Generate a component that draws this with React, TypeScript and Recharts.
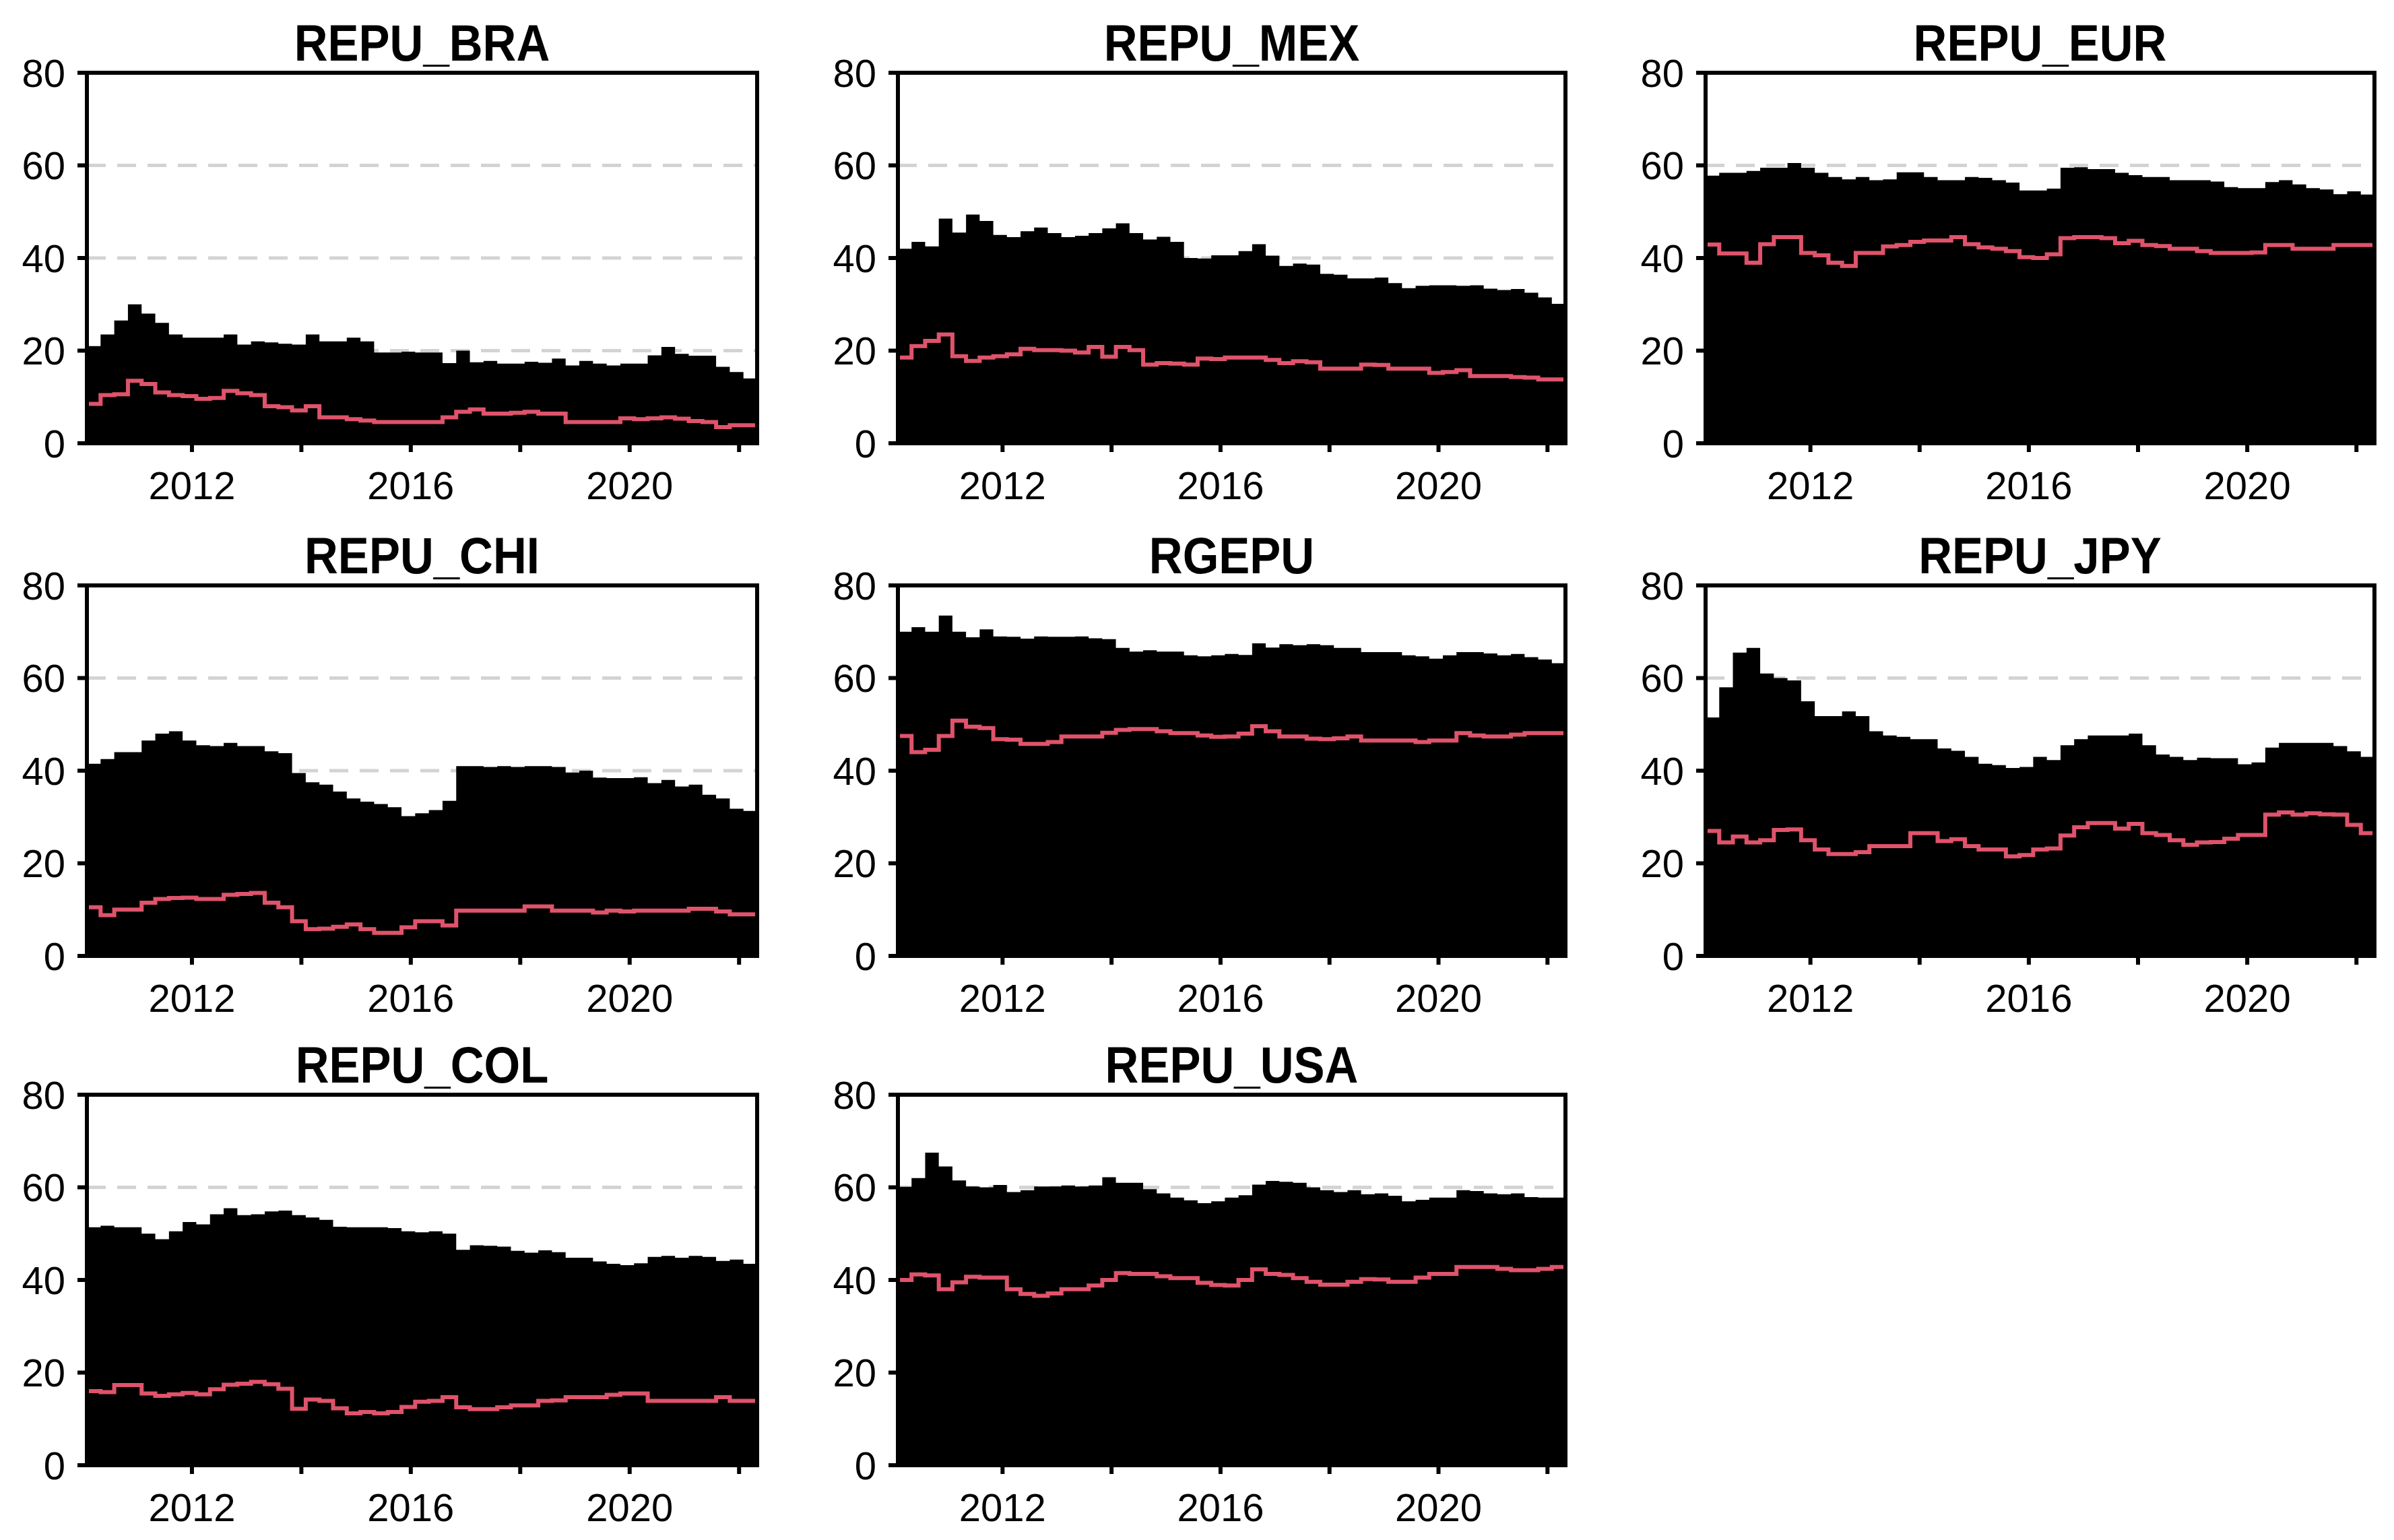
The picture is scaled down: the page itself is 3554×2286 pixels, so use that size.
import { ComposedChart, Area, Line, XAxis, YAxis, CartesianGrid } from 'recharts'

// quarterly observation dates (decimal years)
const quarters = [
  2010.08, 2010.33, 2010.58, 2010.83, 2011.08, 2011.33, 2011.58, 2011.83,
  2012.08, 2012.33, 2012.58, 2012.83, 2013.08, 2013.33, 2013.58, 2013.83,
  2014.08, 2014.33, 2014.58, 2014.83, 2015.08, 2015.33, 2015.58, 2015.83,
  2016.08, 2016.33, 2016.58, 2016.83, 2017.08, 2017.33, 2017.58, 2017.83,
  2018.08, 2018.33, 2018.58, 2018.83, 2019.08, 2019.33, 2019.58, 2019.83,
  2020.08, 2020.33, 2020.58, 2020.83, 2021.08, 2021.33, 2021.58, 2021.83,
  2022.08, 2022.33,
]

const yTicks = [0, 20, 40, 60, 80]
const xTicks = [2012, 2014, 2016, 2018, 2020, 2022]
const xLabels = [2012, 2016, 2020]

const braArea = [
  21, 23.5, 26.5, 30, 28, 26, 23.5, 22.8, 22.8, 22.8, 23.5, 21.3, 22, 21.8, 21.5, 21.3,
  23.5, 22, 22, 22.8, 22, 19.6, 19.6, 19.8, 19.6, 19.6, 17.3, 20, 17.5, 17.8, 17.2, 17.2,
  17.6, 17.4, 18.3, 16.8, 17.8, 17.2, 16.8, 17.2, 17.2, 19, 20.8, 19.3, 18.9, 18.9, 16.5, 15.4,
  14, 14.9,
]
const braLine = [
  8.5, 10.4, 10.6, 13.5, 12.8, 11, 10.4, 10.2, 9.6, 9.8, 11.3, 10.8, 10.4, 8, 7.8, 7.1,
  8, 5.6, 5.6, 5.2, 4.9, 4.6, 4.6, 4.6, 4.6, 4.6, 5.6, 6.8, 7.3, 6.4, 6.4, 6.6,
  6.8, 6.4, 6.4, 4.6, 4.6, 4.6, 4.6, 5.4, 5.2, 5.4, 5.6, 5.3, 4.8, 4.6, 3.5, 3.9,
  3.9, 3.9,
]

const mexArea = [
  42, 43.5, 42.5, 48.5, 45.5, 49.4, 48, 45, 44.5, 45.8, 46.6, 45.4, 44.5, 44.8, 45.4, 46.4,
  47.5, 45.4, 44, 44.6, 43.5, 40, 39.9, 40.6, 40.6, 41.5, 43, 40.5, 38.3, 38.8, 38.6, 36.6,
  36.4, 35.6, 35.6, 35.8, 34.6, 33.5, 34, 34.1, 34.1, 34, 34.1, 33.4, 33.1, 33.3, 32.5, 31.5,
  30.1, 28.6,
]
const mexLine = [
  18.5, 21, 22.1, 23.5, 18.8, 17.8, 18.5, 18.8, 19.2, 20.4, 20.1, 20.1, 20, 19.6, 20.8, 18.7,
  20.8, 20.1, 17, 17.3, 17.2, 17, 18.3, 18.2, 18.5, 18.5, 18.5, 18, 17.3, 17.7, 17.5, 16.1,
  16.1, 16.1, 17, 16.9, 16.1, 16.1, 16.1, 15.2, 15.4, 15.8, 14.5, 14.5, 14.5, 14.3, 14.2, 13.8,
  13.8, 12.7,
]

const eurArea = [
  57.8, 58.4, 58.4, 58.8, 59.5, 59.5, 60.5, 59.5, 58.4, 57.5, 57, 57.5, 56.8, 57, 58.5, 58.5,
  57.5, 56.8, 56.8, 57.5, 57.3, 56.8, 56.3, 54.6, 54.6, 55, 59.5, 59.6, 59.2, 59.2, 58.4, 57.9,
  57.5, 57.5, 56.8, 56.8, 56.8, 56.5, 55.3, 55.1, 55.1, 56.4, 56.8, 55.9, 55.1, 54.8, 53.8, 54.4,
  53.7, 54.4,
]
const eurLine = [
  42.9, 41, 41, 39, 43, 44.5, 44.5, 41.1, 40.6, 39, 38.3, 41.1, 41.1, 42.5, 42.8, 43.5,
  43.8, 43.8, 44.5, 43, 42.3, 42, 41.5, 40.2, 40, 40.8, 44.3, 44.5, 44.5, 44.3, 43.2, 43.7,
  42.8, 42.6, 42, 42, 41.5, 41.1, 41.1, 41.1, 41.2, 42.8, 42.8, 42, 42, 42, 42.8, 42.8,
  42.8, 45.4,
]

const chiArea = [
  41.5, 42.5, 44, 44, 46.5, 48, 48.5, 46.5, 45.5, 45.3, 46, 45.3, 45.3, 44.2, 43.8, 39.5,
  37.5, 37, 35.5, 34, 33.3, 32.8, 32.1, 30.2, 30.8, 31.5, 33.5, 41, 41, 40.8, 41, 40.8,
  41, 41, 40.8, 39.6, 40, 38.5, 38.4, 38.4, 38.6, 37.3, 38, 36.6, 37, 34.8, 34, 31.8,
  31.3, 30.6,
]
const chiLine = [
  10.5, 8.8, 10, 10, 11.5, 12.3, 12.5, 12.6, 12.3, 12.3, 13.2, 13.4, 13.6, 11.5, 10.5, 7.5,
  5.8, 5.9, 6.3, 6.8, 5.8, 5, 5, 6.2, 7.5, 7.5, 6.6, 9.8, 9.8, 9.8, 9.8, 9.8,
  10.7, 10.7, 9.8, 9.8, 9.8, 9.4, 9.8, 9.6, 9.8, 9.8, 9.8, 9.8, 10.2, 10.2, 9.6, 9,
  9, 9,
]

const rgepuArea = [
  70, 71, 70, 73.5, 70, 68.8, 70.5, 69, 68.9, 68.5, 69, 68.9, 68.9, 69, 68.6, 68.4,
  66.5, 65.7, 66, 65.7, 65.7, 64.9, 64.7, 64.9, 65.2, 65, 67.5, 66.6, 67.3, 67.1, 67.3, 67.1,
  66.5, 66.5, 65.6, 65.6, 65.6, 64.9, 64.7, 64.2, 64.9, 65.6, 65.6, 65.3, 64.9, 65.2, 64.5, 64,
  63.2, 63.2,
]
const rgepuLine = [
  47.5, 44, 44.5, 47.5, 50.8, 49.5, 49.2, 46.8, 46.7, 45.8, 45.8, 46.2, 47.4, 47.4, 47.4, 48.2,
  48.8, 49, 49, 48.5, 48.1, 48.1, 47.6, 47.3, 47.4, 48, 49.6, 48.5, 47.4, 47.4, 46.9, 46.8,
  47, 47.4, 46.5, 46.5, 46.5, 46.5, 46.2, 46.5, 46.5, 48.1, 47.6, 47.4, 47.4, 47.8, 48.1, 48.1,
  48.1, 49.9,
]

const jpyArea = [
  51.5, 58, 65.5, 66.5, 61, 60, 59.5, 55, 51.8, 51.8, 52.8, 51.8, 48.5, 47.6, 47.3, 46.8,
  46.8, 44.8, 44.3, 43, 41.5, 41.2, 40.6, 40.8, 43, 42.3, 45.5, 46.8, 47.6, 47.6, 47.6, 48,
  45.5, 43.5, 43, 42.3, 42.8, 42.7, 42.7, 41.4, 41.8, 45, 46, 46, 46, 46, 45.3, 44.2,
  43, 44.3,
]
const jpyLine = [
  27, 24.5, 25.8, 24.5, 25, 27.2, 27.3, 25, 23, 22, 22, 22.4, 23.7, 23.7, 23.7, 26.5,
  26.5, 24.8, 25.2, 23.7, 23, 23, 21.5, 21.8, 23, 23.2, 26, 27.8, 28.7, 28.7, 27.5, 28.5,
  26.5, 26.1, 25, 24, 24.5, 24.6, 25.3, 26.1, 26.1, 30.5, 31, 30.5, 30.8, 30.6, 30.5, 28.3,
  26.5, 28.7,
]

const colArea = [
  51.4, 51.7, 51.4, 51.4, 50, 48.8, 50.5, 52.5, 52, 54.2, 55.5, 54, 54.2, 54.8, 55, 54,
  53.5, 53, 51.5, 51.4, 51.4, 51.4, 51.2, 50.5, 50.3, 50.5, 50, 46.5, 47.5, 47.4, 47.2, 46.3,
  45.9, 46.4, 46, 44.8, 44.8, 44, 43.5, 43.2, 43.6, 45, 45.2, 44.8, 45.2, 45, 44.1, 44.4,
  43.5, 41.6,
]
const colLine = [
  16, 15.8, 17.3, 17.3, 15.5, 15, 15.3, 15.6, 15.3, 16.4, 17.4, 17.6, 18, 17.5, 16.5, 12.2,
  14.2, 13.9, 12.3, 11.2, 11.5, 11.2, 11.5, 12.6, 13.7, 13.9, 14.7, 12.5, 12.1, 12.1, 12.5, 12.9,
  12.9, 13.9, 14, 14.7, 14.7, 14.7, 15.2, 15.5, 15.5, 13.9, 13.9, 13.9, 13.9, 13.9, 14.7, 13.9,
  13.9, 12.9,
]

const usaArea = [
  60.1, 62, 67.5, 64.5, 61.5, 60.2, 60, 60.5, 59, 59.4, 60.2, 60.2, 60.4, 60.2, 60.4, 62.2,
  61, 61, 59.6, 58.7, 57.8, 57.2, 56.6, 57, 57.8, 58.3, 60.6, 61.4, 61.2, 61, 60, 59.4,
  59, 59.4, 58.5, 58.7, 58.2, 57, 57.3, 57.8, 57.8, 59.4, 59.2, 58.7, 58.5, 58.7, 57.9, 57.8,
  57.8, 57.8,
]
const usaLine = [
  40, 41.2, 41, 38, 39.5, 40.7, 40.5, 40.5, 38, 37, 36.6, 37.1, 38, 38, 38.8, 40,
  41.5, 41.3, 41.3, 40.8, 40.4, 40.4, 39.4, 38.9, 38.8, 40, 42.3, 41.3, 41.1, 40.4, 39.6, 39,
  39, 39.6, 40.2, 40.1, 39.6, 39.6, 40.5, 41.3, 41.3, 42.8, 42.8, 42.8, 42.4, 42.1, 42.1, 42.4,
  42.8, 43.7,
]

const panels = [
  { title: 'REPU_BRA', row: 0, col: 0, area: braArea, line: braLine },
  { title: 'REPU_MEX', row: 0, col: 1, area: mexArea, line: mexLine },
  { title: 'REPU_EUR', row: 0, col: 2, area: eurArea, line: eurLine },
  { title: 'REPU_CHI', row: 1, col: 0, area: chiArea, line: chiLine },
  { title: 'RGEPU', row: 1, col: 1, area: rgepuArea, line: rgepuLine },
  { title: 'REPU_JPY', row: 1, col: 2, area: jpyArea, line: jpyLine },
  { title: 'REPU_COL', row: 2, col: 0, area: colArea, line: colLine },
  { title: 'REPU_USA', row: 2, col: 1, area: usaArea, line: usaLine },
]

const colLeft = [129, 1333, 2532]
const colWidth = [995, 991, 993]
const rowTop = [108, 869, 1625]
const plotH = 550

const FONT = '"Liberation Sans", Arial, Helvetica, sans-serif'
const RED = '#DF536B'
const tickStyle = { fill: '#000', fontSize: 58, fontFamily: FONT }

function Panel({ title, row, col, area, line }: any) {
  const left = colLeft[col]
  const top = rowTop[row]
  const w = colWidth[col]
  const padL = 150
  const padT = 45
  const padB = 110
  const padR = 20
  const data = quarters.map((t, i) => ({ t, area: area[i], line: line[i] }))

  return (
    <>
      <div style={{ position: 'absolute', left: left - padL, top: top - padT }}>
        <ComposedChart
          width={w + padL + padR}
          height={plotH + padT + padB}
          data={data}
          margin={{ top: padT, right: padR, bottom: 0, left: 0 }}
        >
          <CartesianGrid vertical={false} stroke="#d3d3d3" strokeWidth={5} strokeDasharray="28 17" />
          <XAxis
            dataKey="t"
            type="number"
            domain={[2010.08, 2022.33]}
            ticks={xTicks}
            interval={0}
            allowDataOverflow
            axisLine={false}
            tickLine={{ stroke: '#000', strokeWidth: 6 }}
            tickSize={13}
            tickMargin={29}
            height={padB}
            tick={tickStyle}
            tickFormatter={(v: number) => (xLabels.includes(v) ? String(v) : '')}
          />
          <YAxis
            type="number"
            domain={[0, 80]}
            ticks={yTicks}
            interval={0}
            allowDataOverflow
            axisLine={false}
            tickLine={{ stroke: '#000', strokeWidth: 6 }}
            tickSize={14}
            tickMargin={18}
            width={padL}
            tick={tickStyle}
          />
          <Area
            type="stepAfter"
            dataKey="area"
            fill="#000"
            fillOpacity={1}
            stroke="none"
            isAnimationActive={false}
          />
          <Line
            type="stepAfter"
            dataKey="line"
            stroke={RED}
            strokeWidth={6}
            dot={false}
            isAnimationActive={false}
          />
        </ComposedChart>
      </div>
      {/* plot frame */}
      <div
        style={{
          position: 'absolute',
          left: left - 3,
          top: top - 3,
          width: w + 6,
          height: plotH + 6,
          border: '6px solid #000',
          boxSizing: 'border-box',
          pointerEvents: 'none',
        }}
      />
      <div
        style={{
          position: 'absolute',
          left,
          width: w,
          top: top - 76,
          textAlign: 'center',
          fontFamily: FONT,
          fontWeight: 'bold',
          fontSize: 69,
          lineHeight: '69px',
          whiteSpace: 'nowrap',
          transform: 'scaleY(1.1)',
          transformOrigin: '50% 85%',
        }}
      >
        {title}
      </div>
    </>
  )
}

export default function App() {
  return (
    <div style={{ position: 'relative', width: 3554, height: 2286, margin: -8, background: '#fff', overflow: 'hidden' }}>
      {panels.map((p) => (
        <Panel key={p.title} {...p} />
      ))}
    </div>
  )
}
